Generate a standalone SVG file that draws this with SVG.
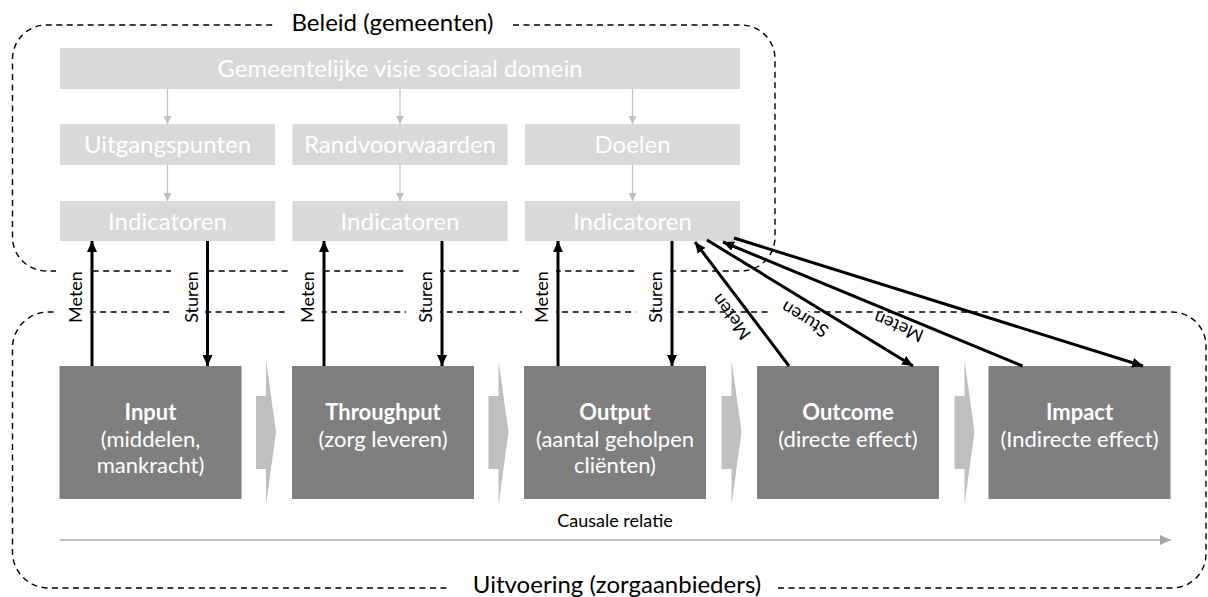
<svg xmlns="http://www.w3.org/2000/svg" width="1208" height="597" viewBox="0 0 1208 597">
<defs>
<style>
text{font-family:"Lato","Liberation Sans",sans-serif}
.dash{fill:none;stroke:#000;stroke-width:1.4;stroke-dasharray:6 4.5}
.title{font-size:24px;fill:#000;text-anchor:middle}
.lbox{fill:#d9d9d9}
.ltxt{font-size:24px;fill:#fff;text-anchor:middle}
.dbox{fill:#7f7f7f}
.dtxt{font-size:22px;fill:#fff;text-anchor:middle}
.b{font-weight:bold}
.chev{fill:#bfbfbf}
.garr{stroke:#bfbfbf;stroke-width:1.2;fill:none}
.arr{stroke:#000;stroke-width:3;fill:none}
.lab{font-size:18px;fill:#000;text-anchor:middle}
.wb{fill:#fff}
</style>
<marker id="ah" markerUnits="userSpaceOnUse" markerWidth="12" markerHeight="10" refX="11" refY="5" orient="auto">
<path d="M0,0 L11,5 L0,10 z" fill="#000"/>
</marker>
<marker id="gh" markerUnits="userSpaceOnUse" markerWidth="9" markerHeight="8" refX="8" refY="4" orient="auto">
<path d="M0,0 L8,4 L0,8 z" fill="#bfbfbf"/>
</marker>
<marker id="ch" markerUnits="userSpaceOnUse" markerWidth="12" markerHeight="10" refX="11" refY="5" orient="auto">
<path d="M0,0 L11,5 L0,10 z" fill="#a6a6a6"/>
</marker>
</defs>
<rect width="1208" height="597" fill="#fff"/>

<g id="beleid">
<path class="dash" d="M513,25 H741 A34,34 0 0 1 775,59 V237 A34,34 0 0 1 741,271 H46.5 A34,34 0 0 1 12.5,237 V59 A34,34 0 0 1 46.5,25 H275.5"/>
<text class="title" x="392.5" y="31">Beleid (gemeenten)</text>
</g>
<g id="uitvoering">
<path class="dash" d="M778,588 H1172 A34,34 0 0 0 1206,554 V346 A34,34 0 0 0 1172,312 H48.5 A36,36 0 0 0 12.5,348 V552 A36,36 0 0 0 48.5,588 H448"/>
<text class="title" x="617" y="593">Uitvoering (zorgaanbieders)</text>
</g>

<g id="visie"><rect class="lbox" x="60" y="48" width="680" height="41"/><text class="ltxt" x="400" y="77">Gemeentelijke visie sociaal domein</text></g>
<g id="uitgangspunten"><rect class="lbox" x="60" y="124" width="215" height="41"/><text class="ltxt" x="167.5" y="153">Uitgangspunten</text></g>
<g id="randvoorwaarden"><rect class="lbox" x="292.5" y="124" width="215" height="41"/><text class="ltxt" x="400" y="153">Randvoorwaarden</text></g>
<g id="doelen"><rect class="lbox" x="525" y="124" width="215" height="41"/><text class="ltxt" x="632.5" y="153">Doelen</text></g>
<g id="indicatoren1"><rect class="lbox" x="60" y="201" width="215" height="40"/><text class="ltxt" x="167.5" y="229.5">Indicatoren</text></g>
<g id="indicatoren2"><rect class="lbox" x="292.5" y="201" width="215" height="40"/><text class="ltxt" x="400" y="229.5">Indicatoren</text></g>
<g id="indicatoren3"><rect class="lbox" x="525" y="201" width="215" height="40"/><text class="ltxt" x="632.5" y="229.5">Indicatoren</text></g>

<g id="input"><rect class="dbox" x="59.5" y="366" width="182" height="133"/>
<text class="dtxt" x="150.5" y="420"><tspan class="b">Input</tspan><tspan x="150.5" dy="27">(middelen,</tspan><tspan x="150.5" dy="26">mankracht)</tspan></text></g>
<g id="throughput"><rect class="dbox" x="292" y="366" width="182" height="133"/>
<text class="dtxt" x="383" y="420"><tspan class="b">Throughput</tspan><tspan x="383" dy="27">(zorg leveren)</tspan></text></g>
<g id="output"><rect class="dbox" x="524" y="366" width="182" height="133"/>
<text class="dtxt" x="615" y="420"><tspan class="b">Output</tspan><tspan x="615" dy="27">(aantal geholpen</tspan><tspan x="615" dy="26">cliënten)</tspan></text></g>
<g id="outcome"><rect class="dbox" x="757" y="366" width="182" height="133"/>
<text class="dtxt" x="848" y="420"><tspan class="b">Outcome</tspan><tspan x="848" dy="27">(directe effect)</tspan></text></g>
<g id="impact"><rect class="dbox" x="988.5" y="366" width="182" height="133"/>
<text class="dtxt" x="1079.5" y="420"><tspan class="b">Impact</tspan><tspan x="1079.5" dy="27">(Indirecte effect)</tspan></text></g>

<g id="chevrons">
<polygon class="chev" points="256,396 266,396 266,360 276,432 266,505 266,469 256,469"/>
<polygon class="chev" points="488.5,396 498.5,396 498.5,360 508.5,432 498.5,505 498.5,469 488.5,469"/>
<polygon class="chev" points="721.5,396 731.5,396 731.5,360 741.5,432 731.5,505 731.5,469 721.5,469"/>
<polygon class="chev" points="954.5,396 964.5,396 964.5,360 974.5,432 964.5,505 964.5,469 954.5,469"/>
</g>

<g id="causaal">
<text x="615" y="527" font-size="18" text-anchor="middle" fill="#000">Causale relatie</text>
<line x1="60" y1="540" x2="1171" y2="540" stroke="#a6a6a6" stroke-width="1.5" marker-end="url(#ch)"/>
</g>

<g id="connectors">
<line class="garr" x1="167.5" y1="89" x2="167.5" y2="124" marker-end="url(#gh)"/>
<line class="garr" x1="400" y1="89" x2="400" y2="124" marker-end="url(#gh)"/>
<line class="garr" x1="632.5" y1="89" x2="632.5" y2="124" marker-end="url(#gh)"/>
<line class="garr" x1="167.5" y1="165" x2="167.5" y2="201" marker-end="url(#gh)"/>
<line class="garr" x1="400" y1="165" x2="400" y2="201" marker-end="url(#gh)"/>
<line class="garr" x1="632.5" y1="165" x2="632.5" y2="201" marker-end="url(#gh)"/>

<rect class="wb" x="56" y="262" width="34" height="68"/>
<rect class="wb" x="171" y="262" width="34" height="68"/>
<rect class="wb" x="288" y="262" width="34" height="68"/>
<rect class="wb" x="406" y="262" width="34" height="68"/>
<rect class="wb" x="522" y="262" width="34" height="68"/>
<rect class="wb" x="636" y="262" width="34" height="68"/>
<rect class="wb" x="-28" y="-11" width="56" height="20" transform="translate(795,314) rotate(-148.5)"/>

<text class="lab" transform="translate(82,297) rotate(-90)">Meten</text>
<text class="lab" transform="translate(197.5,297) rotate(-90)">Sturen</text>
<text class="lab" transform="translate(314,297) rotate(-90)">Meten</text>
<text class="lab" transform="translate(432,297) rotate(-90)">Sturen</text>
<text class="lab" transform="translate(548,297) rotate(-90)">Meten</text>
<text class="lab" transform="translate(662,297) rotate(-90)">Sturen</text>
<text class="lab" transform="translate(736,313) rotate(-127.2)">Meten</text>
<text class="lab" transform="translate(808,314) rotate(-148.5)">Sturen</text>
<text class="lab" transform="translate(901,321) rotate(-157.5)">Meten</text>

<line class="arr" x1="92" y1="366" x2="92" y2="241" marker-end="url(#ah)"/>
<line class="arr" x1="207.5" y1="241" x2="207.5" y2="366" marker-end="url(#ah)"/>
<line class="arr" x1="324" y1="366" x2="324" y2="241" marker-end="url(#ah)"/>
<line class="arr" x1="442" y1="241" x2="442" y2="366" marker-end="url(#ah)"/>
<line class="arr" x1="558" y1="366" x2="558" y2="241" marker-end="url(#ah)"/>
<line class="arr" x1="672" y1="241" x2="672" y2="366" marker-end="url(#ah)"/>
<line class="arr" x1="789" y1="366" x2="695" y2="242" marker-end="url(#ah)"/>
<line class="arr" x1="707" y1="240" x2="913" y2="366" marker-end="url(#ah)"/>
<line class="arr" x1="1022.5" y1="366" x2="723" y2="242" marker-end="url(#ah)"/>
<line class="arr" x1="734" y1="238" x2="1143" y2="366" marker-end="url(#ah)"/>
</g>
</svg>
